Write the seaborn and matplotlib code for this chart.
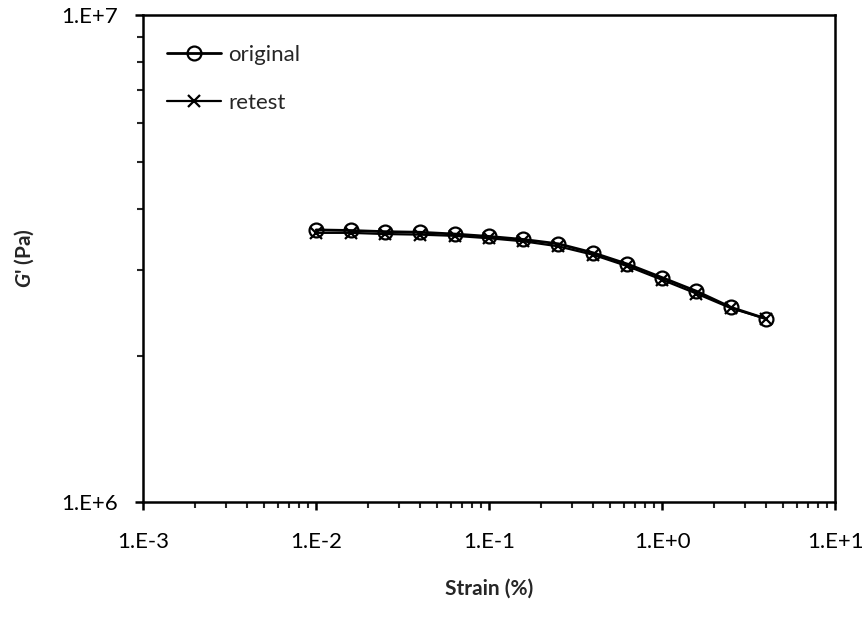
import numpy as np
import pandas as pd
import matplotlib
matplotlib.use("Agg")
import matplotlib.pyplot as plt
import matplotlib.ticker as mticker
import seaborn as sns

# strain (%) and storage modulus G' (Pa)
strain = [0.01, 0.0158, 0.0251, 0.0398, 0.0631, 0.1, 0.158, 0.251, 0.398, 0.631, 1.0, 1.58, 2.51, 3.98]
g_original = [3.62e6, 3.61e6, 3.59e6, 3.58e6, 3.55e6, 3.51e6, 3.46e6, 3.39e6, 3.25e6, 3.08e6, 2.89e6, 2.71e6, 2.51e6, 2.38e6]
g_retest = [3.57e6, 3.57e6, 3.55e6, 3.54e6, 3.52e6, 3.48e6, 3.43e6, 3.35e6, 3.22e6, 3.05e6, 2.86e6, 2.68e6, 2.50e6, 2.38e6]

sns.set_style("ticks")
plt.rcParams["font.family"] = ["Lato", "DejaVu Sans"]
plt.rcParams["mathtext.fontset"] = "custom"
plt.rcParams["mathtext.it"] = "Lato:italic:bold"
plt.rcParams["mathtext.rm"] = "Lato:bold"

fig = plt.figure(figsize=(8.68, 6.17), dpi=100)
ax = fig.add_axes([0.165, 0.186, 0.797, 0.790])

# original: open circles
sns.lineplot(x=strain, y=g_original, color="black", marker="o", markersize=10,
             markerfacecolor="none", markeredgecolor="black", markeredgewidth=1.6,
             linewidth=2, label="original", ax=ax)
# retest: crosses
sns.lineplot(x=strain, y=g_retest, color="black", marker="x", markersize=9,
             markeredgecolor="black", markeredgewidth=1.6,
             linewidth=1.6, label="retest", ax=ax)

ax.set_xscale("log")
ax.set_yscale("log")
ax.set_xlim(1e-3, 1e1)
ax.set_ylim(1e6, 1e7)

fmt = mticker.FuncFormatter(lambda v, p: "1.E%+d" % int(round(np.log10(v))))
ax.xaxis.set_major_locator(mticker.LogLocator(base=10, numticks=10))
ax.yaxis.set_major_locator(mticker.LogLocator(base=10, numticks=10))
ax.xaxis.set_major_formatter(fmt)
ax.yaxis.set_major_formatter(fmt)
ax.xaxis.set_minor_locator(mticker.LogLocator(base=10, subs=np.arange(2, 10), numticks=20))
ax.yaxis.set_minor_locator(mticker.LogLocator(base=10, subs=np.arange(2, 10), numticks=20))
ax.xaxis.set_minor_formatter(mticker.NullFormatter())
ax.yaxis.set_minor_formatter(mticker.NullFormatter())

ax.tick_params(which="major", direction="out", length=5.5, width=1.8, labelsize=16, colors="black")
ax.tick_params(which="minor", direction="out", length=4, width=1.5)
ax.tick_params(axis="y", which="major", pad=13)
ax.tick_params(axis="x", which="major", pad=16)
for s in ax.spines.values():
    s.set_visible(True)
    s.set_linewidth(1.8)
    s.set_color("black")

ax.set_xlabel("Strain (%)", fontsize=15, fontweight="bold", labelpad=19)
ax.set_ylabel(r"$G$' (Pa)", fontsize=15, fontweight="bold", labelpad=18)

ax.legend(loc="upper left", bbox_to_anchor=(24 / 692, 1 - 30 / 487), frameon=False,
          fontsize=16, handlelength=2.4, handletextpad=0.35, labelspacing=1.25,
          borderaxespad=0, borderpad=0)

fig.savefig("out.png", dpi=100)
